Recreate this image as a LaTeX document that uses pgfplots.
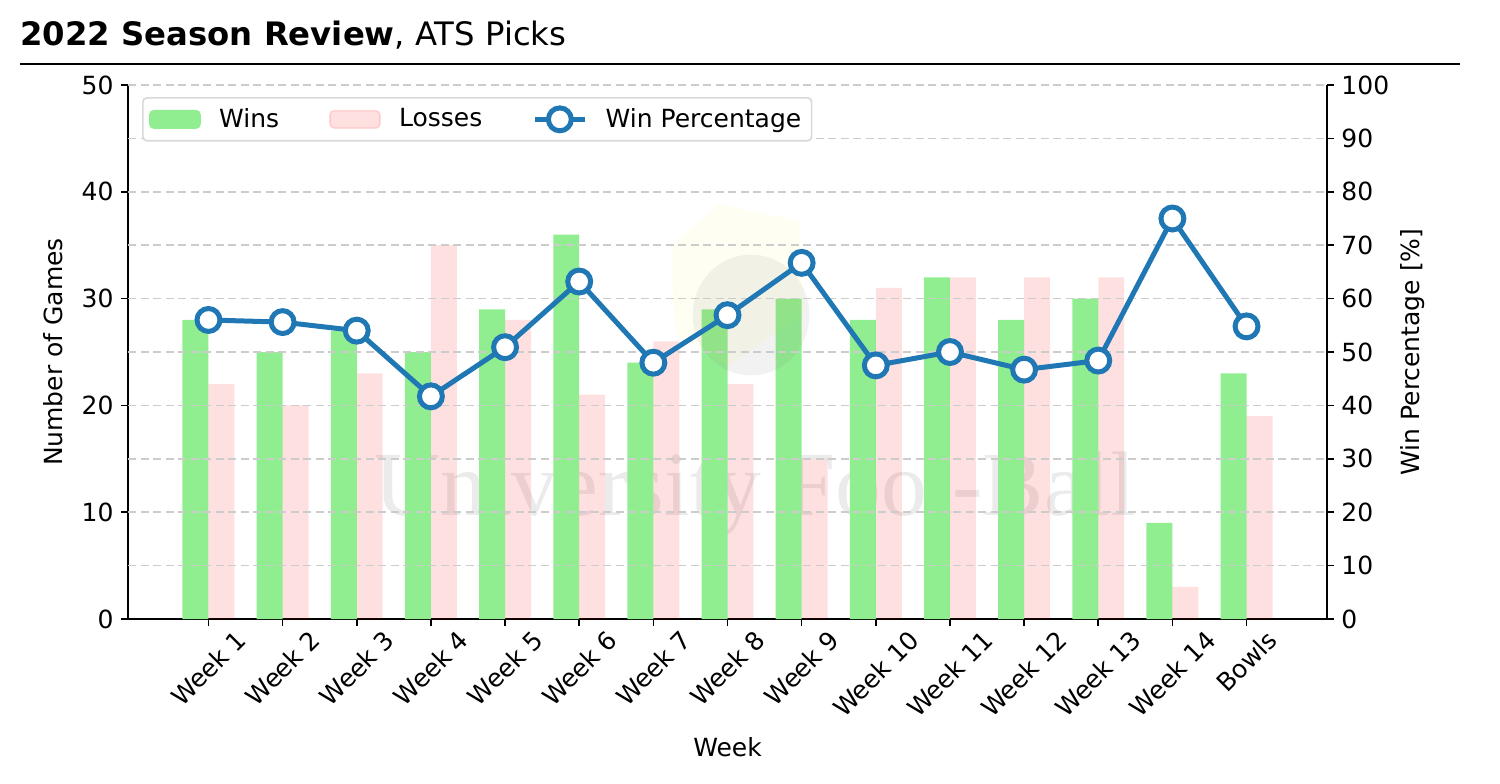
\documentclass[border=0pt]{standalone}
\usepackage{pgfplots}
\pgfplotsset{compat=1.18}
\usepackage{graphicx}
\usepackage{fontspec}
\setmainfont{DejaVu Sans}
\newfontfamily\wmfont{Liberation Serif}

\definecolor{winsgreen}{RGB}{144,238,144}
\definecolor{lossred}{RGB}{255,0,0}
\definecolor{pctblue}{RGB}{31,119,180}
\newcommand{\rl}[1]{\rotatebox{45}{#1}}

% 1 px of the reference = 0.48pt
\begin{document}
\begin{tikzpicture}
\path[use as bounding box] (0,0) rectangle (720pt,-375.84pt);

\pgfplotsset{
  chartbase/.style={
    at={(61.44pt,-297.12pt)}, anchor=south west,
    scale only axis, width=575.52pt, height=256.32pt,
    xmin=-1.085, xmax=15.085,
    tick align=outside, major tick length=3.4pt,
    tick style={black, line width=0.8pt},
    axis line style={black, line width=0.8pt},
    ticklabel style={font=\fontsize{12}{14}\selectfont},
    label style={font=\fontsize{12}{14}\selectfont},
    /pgf/number format/assume math mode=true,
  }
}

% watermark text, under the bars
\node[anchor=base, inner sep=0, text=gray, opacity=0.16] at (362.4pt,-247.2pt)
  {\wmfont\fontsize{44}{48}\selectfont University Foot-Ball};

\begin{axis}[chartbase,
  ymin=0, ymax=50,
  axis x line*=bottom, axis y line*=left,
  xtick={0,...,14},
  xticklabels={\rl{Week 1},\rl{Week 2},\rl{Week 3},\rl{Week 4},\rl{Week 5},\rl{Week 6},\rl{Week 7},\rl{Week 8},\rl{Week 9},\rl{Week 10},\rl{Week 11},\rl{Week 12},\rl{Week 13},\rl{Week 14},\rl{Bowls}},
  xticklabel style={anchor=north, inner sep=1pt},
  ytick={0,10,...,50},
  xlabel={Week}, ylabel={Number of Games},
  xlabel style={yshift=-4.5pt},
  ylabel style={yshift=2pt},
]
\addplot[ybar, bar width=0.35, bar shift=-0.175, fill=winsgreen, draw=none] coordinates {
(0,28) (1,25) (2,27) (3,25) (4,29) (5,36) (6,24) (7,29) (8,30) (9,28) (10,32) (11,28) (12,30) (13,9) (14,23)};
\addplot[ybar, bar width=0.35, bar shift=0.175, fill=lossred, fill opacity=0.12, draw=none] coordinates {
(0,22) (1,20) (2,23) (3,35) (4,28) (5,21) (6,26) (7,22) (8,15) (9,31) (10,32) (11,32) (12,32) (13,3) (14,19)};
\end{axis}

% watermark logo
\fill[yellow, opacity=0.05] (322pt,-118pt) -- (345pt,-98pt) -- (384pt,-106pt) -- (386pt,-150pt) -- (350pt,-176pt) -- (324pt,-160pt) -- cycle;
\fill[gray, opacity=0.10] (360.5pt,-151.2pt) ellipse (28pt and 29pt);

\begin{axis}[chartbase,
  ymin=0, ymax=100,
  axis x line=none, axis y line*=right,
  ytick={0,10,...,100},
  extra y ticks={10,20,...,100}, extra y tick labels={},
  extra y tick style={grid=major, major tick length=0pt},
  grid style={dash pattern=on 4pt off 2pt, line width=0.7pt, gray!40},
  ylabel={Win Percentage [\%]},
  ylabel style={yshift=4.8pt},
  legend columns=3,
  legend style={at={(0.0117,0.9775)}, anchor=north west,
    draw=gray!30, line width=0.8pt, rounded corners=2pt, fill=white,
    font=\fontsize{12}{14}\selectfont, inner xsep=3pt, inner ysep=3pt,
    /tikz/every odd column/.append style={column sep=6.8pt},
    /tikz/every even column/.append style={column sep=22pt}},
]
\addlegendimage{legend image code/.code={\fill[winsgreen] (0pt,-4.2pt) rectangle (24pt,4.2pt);}}
\addlegendentry{Wins}
\addlegendimage{legend image code/.code={\fill[lossred, opacity=0.12] (0pt,-4.2pt) rectangle (24pt,4.2pt);}}
\addlegendentry{Losses}
\addplot[pctblue, line width=2.4pt, mark=*, mark size=5.5pt,
  mark options={fill=white, draw=pctblue, line width=2.4pt},
  legend image code/.code={\draw[pctblue, line width=2.4pt] (0pt,0pt) -- (24pt,0pt);
    \draw[pctblue, fill=white, line width=2.4pt] (12pt,0pt) circle (5.5pt);}]
  coordinates {
(0,56.0) (1,55.6) (2,54.0) (3,41.7) (4,50.9) (5,63.2) (6,48.0) (7,56.9) (8,66.7) (9,47.5) (10,50.0) (11,46.7) (12,48.4) (13,75.0) (14,54.8)};
\addlegendentry{Win Percentage}
\end{axis}

% title and rule
\node[anchor=base west, inner sep=0] at (9.6pt,-21.6pt)
  {\fontsize{15.5}{18}\selectfont\textbf{2022 Season Review}, ATS Picks};
\draw[black, line width=1pt] (9.6pt,-30.72pt) -- (700.8pt,-30.72pt);
\end{tikzpicture}
\end{document}
